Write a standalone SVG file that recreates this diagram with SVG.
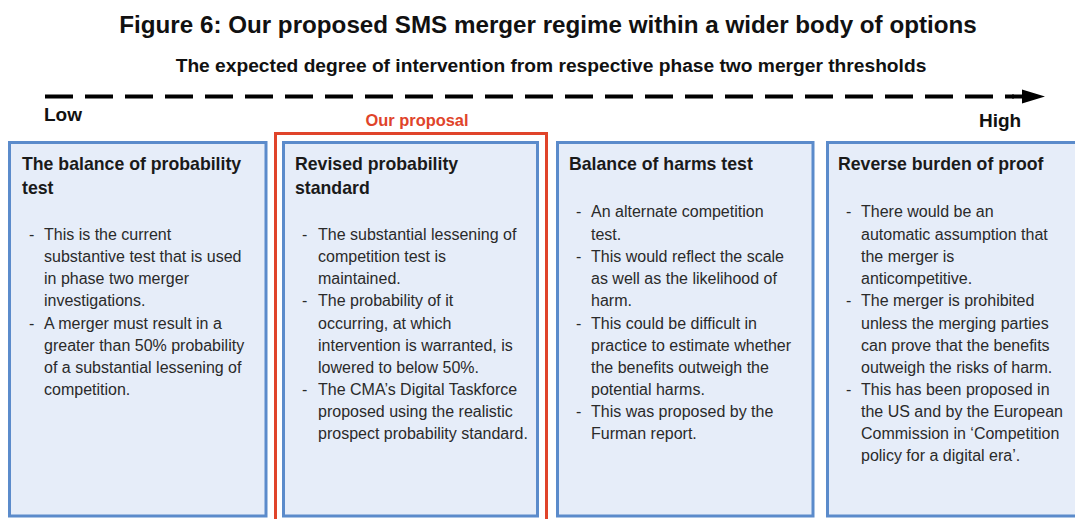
<svg xmlns="http://www.w3.org/2000/svg" width="1075" height="519" viewBox="0 0 1075 519">
<defs>
<style>
.t{font-family:"Liberation Sans",Arial,sans-serif;font-weight:bold;fill:#111}
.h{font-family:"Liberation Sans",Arial,sans-serif;font-weight:bold;font-size:17.7px;fill:#1a1a1a}
.b{font-family:"Liberation Sans",Arial,sans-serif;font-size:16px;fill:#2a2a2a}
.box{fill:#e6edf9;stroke:#5b8bcb;stroke-width:3}
</style>
</defs>
<rect width="1075" height="519" fill="#fff"/>
<text class="t" x="548" y="33" font-size="24.2" text-anchor="middle">Figure 6: Our proposed SMS merger regime within a wider body of options</text>
<text class="t" x="551" y="72" font-size="19.2" text-anchor="middle">The expected degree of intervention from respective phase two merger thresholds</text>
<g id="connectors">
<line x1="45" y1="96.5" x2="1014" y2="96.5" stroke="#000" stroke-width="4" stroke-dasharray="28 12"/>
<path d="M1012,94.5 L1022,94.5 L1022,89.5 L1045,96.5 L1022,103.5 L1022,98.5 L1012,98.5 z" fill="#000"/>
</g>
<text class="t" x="44" y="121" font-size="19">Low</text>
<text class="t" x="979" y="127" font-size="19">High</text>
<g id="proposal">
<rect x="275.5" y="133.5" width="271" height="400" fill="none" stroke="#e0442a" stroke-width="3"/>
<text x="417" y="126" font-family="Liberation Sans,Arial,sans-serif" font-weight="bold" font-size="16.4" fill="#e0442a" text-anchor="middle">Our proposal</text>
</g>
<g id="node1">
<rect class="box" x="9.5" y="142.5" width="256.5" height="373.5"/>
<text class="h" x="22" y="170">The balance of probability</text>
<text class="h" x="22" y="194">test</text>
<g class="b">
<text x="29" y="240">-</text><text x="44" y="240">This is the current</text>
<text x="44" y="262">substantive test that is used</text>
<text x="44" y="284">in phase two merger</text>
<text x="44" y="306">investigations.</text>
<text x="29" y="329">-</text><text x="44" y="329">A merger must result in a</text>
<text x="44" y="351">greater than 50% probability</text>
<text x="44" y="373">of a substantial lessening of</text>
<text x="44" y="395">competition.</text>
</g>
</g>
<g id="node2">
<rect class="box" x="283.5" y="142.5" width="254" height="373.5"/>
<text class="h" x="295" y="170">Revised probability</text>
<text class="h" x="295" y="194">standard</text>
<g class="b">
<text x="302" y="240">-</text><text x="318" y="240">The substantial lessening of</text>
<text x="318" y="262">competition test is</text>
<text x="318" y="284">maintained.</text>
<text x="302" y="306">-</text><text x="318" y="306">The probability of it</text>
<text x="318" y="329">occurring, at which</text>
<text x="318" y="351">intervention is warranted, is</text>
<text x="318" y="373">lowered to below 50%.</text>
<text x="302" y="395">-</text><text x="318" y="395">The CMA’s Digital Taskforce</text>
<text x="318" y="417">proposed using the realistic</text>
<text x="318" y="439">prospect probability standard.</text>
</g>
</g>
<g id="node3">
<rect class="box" x="557.5" y="142.5" width="255.5" height="373.5"/>
<text class="h" x="569" y="170">Balance of harms test</text>
<g class="b">
<text x="576" y="217">-</text><text x="591" y="217">An alternate competition</text>
<text x="591" y="240">test.</text>
<text x="576" y="262">-</text><text x="591" y="262">This would reflect the scale</text>
<text x="591" y="284">as well as the likelihood of</text>
<text x="591" y="306">harm.</text>
<text x="576" y="329">-</text><text x="591" y="329">This could be difficult in</text>
<text x="591" y="351">practice to estimate whether</text>
<text x="591" y="373">the benefits outweigh the</text>
<text x="591" y="395">potential harms.</text>
<text x="576" y="417">-</text><text x="591" y="417">This was proposed by the</text>
<text x="591" y="439">Furman report.</text>
</g>
</g>
<g id="node4">
<rect class="box" x="827.5" y="142.5" width="260" height="373.5"/>
<text class="h" x="838" y="170">Reverse burden of proof</text>
<g class="b">
<text x="846" y="217">-</text><text x="861" y="217">There would be an</text>
<text x="861" y="240">automatic assumption that</text>
<text x="861" y="262">the merger is</text>
<text x="861" y="284">anticompetitive.</text>
<text x="846" y="306">-</text><text x="861" y="306">The merger is prohibited</text>
<text x="861" y="329">unless the merging parties</text>
<text x="861" y="351">can prove that the benefits</text>
<text x="861" y="373">outweigh the risks of harm.</text>
<text x="846" y="395">-</text><text x="861" y="395">This has been proposed in</text>
<text x="861" y="417">the US and by the European</text>
<text x="861" y="439">Commission in ‘Competition</text>
<text x="861" y="461">policy for a digital era’.</text>
</g>
</g>
</svg>
